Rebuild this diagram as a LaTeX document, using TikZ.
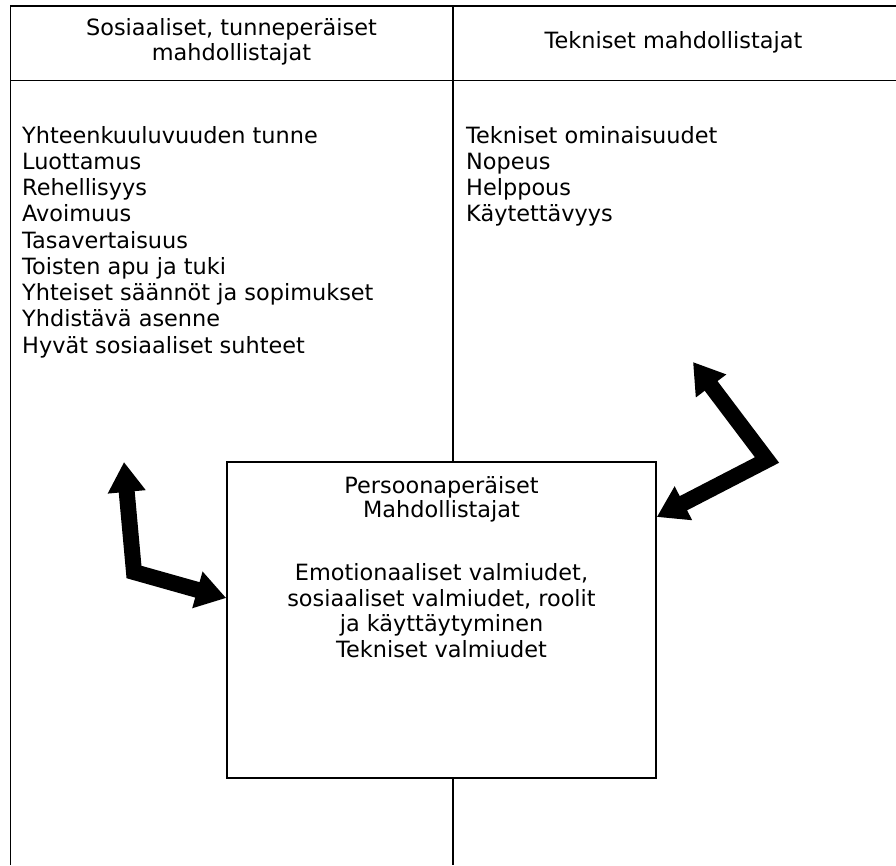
\documentclass[tikz,border=0pt]{standalone}
\usepackage{fontspec}
\setmainfont{DejaVu Sans}
\usetikzlibrary{arrows.meta}
\begin{document}
\begin{tikzpicture}[x=1pt,y=-1pt,
  txt/.style={inner sep=0pt, font=\fontsize{22.4}{26.25}\selectfont},
  lefttxt/.style={txt, anchor=base west},
  centtxt/.style={txt, anchor=base},
  rule/.style={line width=1.8pt, black},
  thinrule/.style={line width=1pt, black},
  mainbox/.style={draw, line width=1.5pt, fill=white, inner sep=0pt},
  bigarrow/.style={line width=16pt, line join=miter, {Triangle[length=30pt,width=36pt]}-{Triangle[length=30pt,width=36pt]}}
]
\useasboundingbox (0,0) rectangle (896,865);
% table frame
\coordinate (tl) at (10.5,6);
\coordinate (tr) at (896,6);
\coordinate (bl) at (10.5,865);
\coordinate (hl) at (10.5,80);
\coordinate (hr) at (896,80);
\coordinate (mt) at (452.7,6);
\coordinate (mb) at (452.7,865);
\draw[thinrule] (hl) -- (hr);
\draw[rule] (mt) -- (mb);
\draw[rule] (bl) -- (tl) -- (tr);
% headers
\node[centtxt] (h1a) at (231.5,35) {Sosiaaliset, tunneperäiset};
\node[centtxt] (h1b) at (231.5,60) {mahdollistajat};
\node[centtxt] (h2) at (673.5,48) {Tekniset mahdollistajat};
% left list
\foreach \t [count=\i] in {Yhteenkuuluvuuden tunne,Luottamus,Rehellisyys,Avoimuus,Tasavertaisuus,Toisten apu ja tuki,Yhteiset säännöt ja sopimukset,Yhdistävä asenne,Hyvät sosiaaliset suhteet}
  \node[lefttxt] (l\i) at (22,{143+(\i-1)*26.25}) {\t};
% right list
\foreach \t [count=\i] in {Tekniset ominaisuudet,Nopeus,Helppous,Käytettävyys}
  \node[lefttxt] (r\i) at (466,{143+(\i-1)*26.25}) {\t};
% central box
\node[mainbox, minimum width=429pt, minimum height=316pt] (box) at (441.5,620) {};
\node[centtxt] (b1) at (441.5,493) {Persoonaperäiset};
\node[centtxt] (b2) at (441.5,517) {Mahdollistajat};
\node[centtxt] (b3) at (441.5,580) {Emotionaaliset valmiudet,};
\node[centtxt] (b4) at (441.5,606) {sosiaaliset valmiudet, roolit};
\node[centtxt] (b5) at (441.5,631) {ja käyttäytyminen};
\node[centtxt] (b6) at (441.5,657) {Tekniset valmiudet};
% arrows
\coordinate (la1) at (124,462);
\coordinate (lc) at (134,572);
\coordinate (la2) at (box.west |- 0,598);
\draw[bigarrow] (la1) -- (lc) -- (la2);
\coordinate (ra1) at (693,362);
\coordinate (rc) at (767,460);
\coordinate (ra2) at (box.east |- 0,517);
\draw[bigarrow] (ra1) -- (rc) -- (ra2);
\end{tikzpicture}
\end{document}
